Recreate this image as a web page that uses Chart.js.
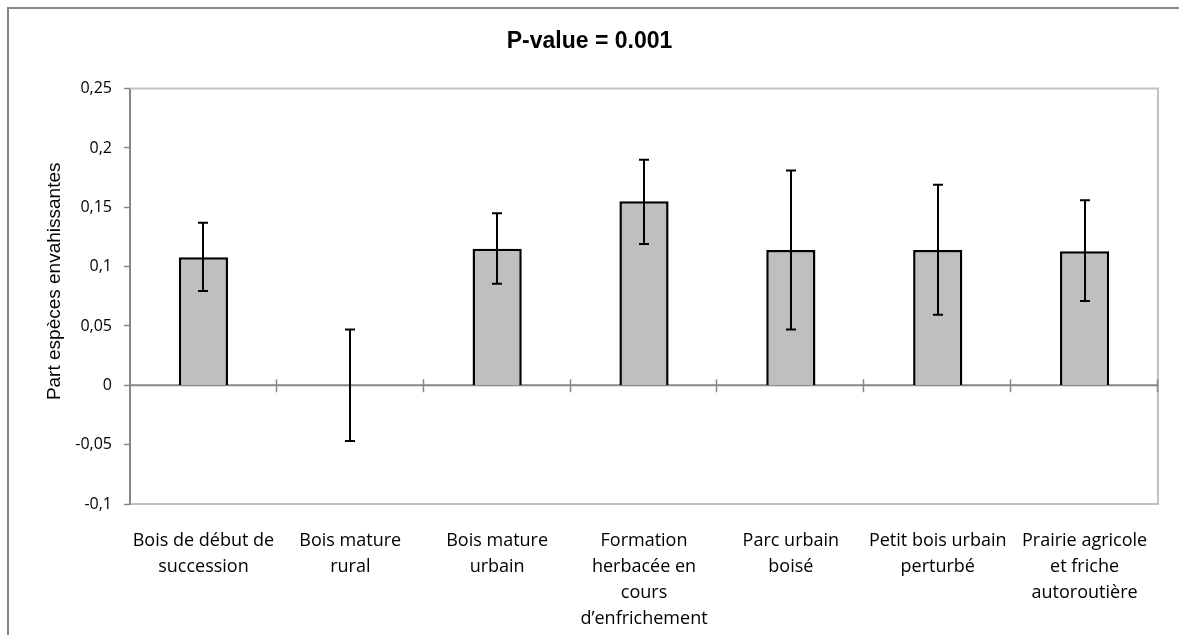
<!DOCTYPE html>
<html>
<head>
<meta charset="utf-8">
<script src="https://cdn.jsdelivr.net/npm/chart.js@4/dist/chart.umd.min.js"></script>
<style>
  html, body { margin: 0; padding: 0; background: #fff; }
  canvas { display: block; }
</style>
</head>
<body>
<canvas id="chart" width="1179" height="635"></canvas>
<script>
// data
const categories = [
    ['Bois de début de', 'succession'],
    ['Bois mature', 'rural'],
    ['Bois mature', 'urbain'],
    ['Formation', 'herbacée en', 'cours', 'd\u2019enfrichement'],
    ['Parc urbain', 'boisé'],
    ['Petit bois urbain', 'perturbé'],
    ['Prairie agricole', 'et friche', 'autoroutière']
];
const means = [0.108, 0, 0.115, 0.155, 0.114, 0.114, 0.113];
const errLow = [0.0795, -0.047, 0.0855, 0.119, 0.047, 0.0595, 0.071];
const errHigh = [0.137, 0.047, 0.145, 0.190, 0.181, 0.169, 0.156];
const yMin = -0.1;
const yMax = 0.25;
const yStep = 0.05;

const titleText = 'P-value = 0.001';
const yTitle = 'Part espèces envahissantes';

const AXIS_GREY = '#868686';
const BORDER_GREY = '#c0c0c0';

// frame, plot border, zero line, error bars and y title
const decorPlugin = {
    id: 'decor',
    beforeDraw(chart) {
        const ctx = chart.ctx;
        ctx.save();
        ctx.fillStyle = '#ffffff';
        ctx.fillRect(0, 0, chart.width, chart.height);
        ctx.strokeStyle = AXIS_GREY;
        ctx.lineWidth = 2;
        ctx.beginPath();
        ctx.moveTo(8, chart.height);
        ctx.lineTo(8, 8);
        ctx.lineTo(chart.width, 8);
        ctx.stroke();
        ctx.restore();
    },
    beforeDatasetsDraw(chart) {
        const ctx = chart.ctx;
        const a = chart.chartArea;
        const xs = chart.scales.x;
        const ys = chart.scales.y;
        ctx.save();
        // plot area border (top + right)
        ctx.strokeStyle = BORDER_GREY;
        ctx.lineWidth = 2;
        ctx.beginPath();
        ctx.moveTo(a.left, a.top);
        ctx.lineTo(a.right, a.top);
        ctx.lineTo(a.right, a.bottom);
        ctx.stroke();
        // zero line with crossing ticks
        const y0 = ys.getPixelForValue(0);
        ctx.strokeStyle = AXIS_GREY;
        ctx.lineWidth = 2;
        ctx.beginPath();
        ctx.moveTo(a.left, y0);
        ctx.lineTo(a.right, y0);
        ctx.stroke();
        ctx.lineWidth = 1.5;
        ctx.beginPath();
        for (let i = 1; i <= categories.length; i++) {
            const bx = Math.round(xs.getPixelForValue(i - 0.5)) - 0.5;
            ctx.moveTo(bx, y0 - 6);
            ctx.lineTo(bx, y0 + 7);
        }
        ctx.stroke();
        // y axis title
        ctx.fillStyle = '#000000';
        ctx.font = '19px "Liberation Sans", Arial, sans-serif';
        ctx.textAlign = 'center';
        ctx.textBaseline = 'middle';
        ctx.translate(55, (a.top + a.bottom) / 2 - 15);
        ctx.rotate(-Math.PI / 2);
        ctx.fillText(yTitle, 0, 0);
        ctx.restore();
    },
    afterDatasetsDraw(chart) {
        const ctx = chart.ctx;
        const ys = chart.scales.y;
        const meta = chart.getDatasetMeta(0);
        ctx.save();
        ctx.strokeStyle = '#000000';
        ctx.lineWidth = 2;
        meta.data.forEach((bar, i) => {
            const x = Math.round(bar.x);
            const yl = ys.getPixelForValue(errLow[i]);
            const yh = ys.getPixelForValue(errHigh[i]);
            ctx.beginPath();
            ctx.moveTo(x, yl);
            ctx.lineTo(x, yh);
            ctx.moveTo(x - 5, yl);
            ctx.lineTo(x + 5, yl);
            ctx.moveTo(x - 5, yh);
            ctx.lineTo(x + 5, yh);
            ctx.stroke();
        });
        ctx.restore();
    }
};

const ctx = document.getElementById('chart').getContext('2d');
new Chart(ctx, {
    type: 'bar',
    data: {
        labels: categories,
        datasets: [{
            data: means,
            backgroundColor: '#bfbfbf',
            borderColor: '#000000',
            borderWidth: c => (c.raw === 0 ? 0 : 2.5),
            borderSkipped: 'start',
            barPercentage: 0.335,
            categoryPercentage: 1
        }]
    },
    options: {
        responsive: false,
        animation: false,
        devicePixelRatio: 1,
        layout: { padding: 0 },
        plugins: {
            legend: { display: false },
            tooltip: { enabled: false },
            title: {
                display: true,
                text: titleText,
                color: '#000000',
                font: { family: '"Liberation Sans", Arial, sans-serif', size: 23, weight: 'bold' },
                padding: { top: 28, bottom: 33 }
            }
        },
        scales: {
            x: {
                grid: { display: false },
                border: { display: true, color: BORDER_GREY, width: 2 },
                ticks: {
                    color: '#000000',
                    autoSkip: false,
                    maxRotation: 0,
                    minRotation: 0,
                    padding: 16,
                    font: { family: '"Open Sans", sans-serif', size: 18, lineHeight: '26px' }
                },
                afterFit: s => { s.height = 131; }
            },
            y: {
                min: yMin,
                max: yMax,
                grid: {
                    drawOnChartArea: false,
                    drawTicks: true,
                    tickLength: 6,
                    tickColor: AXIS_GREY,
                    tickWidth: 1.5
                },
                border: { display: true, color: AXIS_GREY, width: 2 },
                ticks: {
                    stepSize: yStep,
                    padding: 12,
                    color: '#000000',
                    font: { family: '"Open Sans", sans-serif', size: 16 },
                    callback: v => String(Math.round(v * 100) / 100).replace('.', ',')
                },
                afterFit: s => { s.width = 130; }
            },
            // empty right-hand strip so the title centres on the whole canvas
            yRight: {
                position: 'right',
                display: true,
                grid: { display: false },
                border: { display: false },
                ticks: { display: false },
                afterFit: s => { s.width = 21; }
            }
        }
    },
    plugins: [decorPlugin]
});
</script>
</body>
</html>
